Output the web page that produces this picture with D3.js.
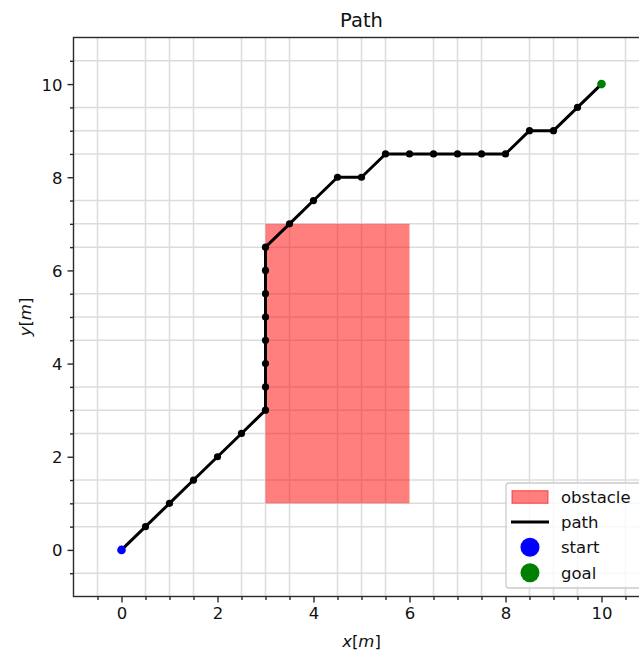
<!DOCTYPE html>
<html>
<head>
<meta charset="utf-8">
<script src="https://cdn.jsdelivr.net/npm/d3@7"></script>
<style>
  html, body { margin: 0; padding: 0; background: #fff; }
  svg { display: block; font-family: "DejaVu Sans", sans-serif; }
</style>
</head>
<body>
<svg id="chart" width="639" height="651"></svg>
<script>
// ---- data ----
const pathX = [0, 0.5, 1, 1.5, 2, 2.5, 3, 3, 3, 3, 3, 3, 3, 3, 3.5, 4, 4.5, 5, 5.5, 6, 6.5, 7, 7.5, 8, 8.5, 9, 9.5, 10];
const pathY = [0, 0.5, 1, 1.5, 2, 2.5, 3, 3.5, 4, 4.5, 5, 5.5, 6, 6.5, 7, 7.5, 8, 8, 8.5, 8.5, 8.5, 8.5, 8.5, 8.5, 9, 9, 9.5, 10];
const obstacleX = [3, 6];
const obstacleY = [1, 7];
const startPoint = [0, 0];
const goalPoint = [10, 10];
const xDomain = [-1, 11];
const yDomain = [-1, 11];
const majorTicks = [0, 2, 4, 6, 8, 10];
const minorTicks = [-1, -0.5, 0.5, 1, 1.5, 2.5, 3, 3.5, 4.5, 5, 5.5, 6.5, 7, 7.5, 8.5, 9, 9.5, 10.5, 11];
const legendLabels = ["obstacle", "path", "start", "goal"];

// ---- layout ----
const svg = d3.select("#chart");
const pL = 73.5, pR = 649.5, pT = 37.5, pB = 596.5;
const x = d3.scaleLinear().domain(xDomain).range([pL, pR]);
const y = d3.scaleLinear().domain(yDomain).range([pB, pT]);

svg.append("defs").append("clipPath").attr("id", "clip")
  .append("rect").attr("x", pL).attr("y", pT).attr("width", pR - pL).attr("height", pB - pT);

const plot = svg.append("g").attr("clip-path", "url(#clip)");

// grid on minor ticks only
const gridMinor = minorTicks.filter(v => v > xDomain[0] && v < xDomain[1]);
plot.selectAll(".gx").data(gridMinor).enter().append("line")
  .attr("x1", d => x(d)).attr("x2", d => x(d)).attr("y1", pT).attr("y2", pB)
  .attr("stroke", "#dcdcdc").attr("stroke-width", 1.5);
plot.selectAll(".gy").data(gridMinor).enter().append("line")
  .attr("y1", d => y(d)).attr("y2", d => y(d)).attr("x1", pL).attr("x2", pR)
  .attr("stroke", "#dcdcdc").attr("stroke-width", 1.5);

// obstacle
plot.append("rect")
  .attr("x", x(obstacleX[0])).attr("y", y(obstacleY[1]))
  .attr("width", x(obstacleX[1]) - x(obstacleX[0]))
  .attr("height", y(obstacleY[0]) - y(obstacleY[1]))
  .attr("fill", "#ff0000").attr("fill-opacity", 0.5);

// path
const pts = pathX.map((v, i) => [v, pathY[i]]);
plot.append("path").datum(pts)
  .attr("d", d3.line().x(d => x(d[0])).y(d => y(d[1])))
  .attr("fill", "none").attr("stroke", "#000").attr("stroke-width", 3)
  .attr("stroke-linejoin", "round");
plot.selectAll(".pt").data(pts).enter().append("circle")
  .attr("cx", d => x(d[0])).attr("cy", d => y(d[1])).attr("r", 3.6).attr("fill", "#000");

// start & goal
plot.append("circle").attr("cx", x(startPoint[0])).attr("cy", y(startPoint[1])).attr("r", 4.3).attr("fill", "#0000ff");
plot.append("circle").attr("cx", x(goalPoint[0])).attr("cy", y(goalPoint[1])).attr("r", 4.3).attr("fill", "#008000");

// axes
const axisColor = "#2a2a2a";
function styleAxis(g) {
  g.select(".domain").remove();
  g.selectAll("line").attr("stroke", axisColor).attr("stroke-width", 1.4);
  g.selectAll("text").attr("fill", "#111").style("font-size", "16.5px").style("font-family", "DejaVu Sans, sans-serif");
}
const xMajor = svg.append("g").attr("transform", `translate(0,${pB})`)
  .call(d3.axisBottom(x).tickValues(majorTicks).tickSize(6).tickPadding(5).tickFormat(d3.format("d")));
styleAxis(xMajor);
const xMinor = svg.append("g").attr("transform", `translate(0,${pB})`)
  .call(d3.axisBottom(x).tickValues(minorTicks.filter(v => v > xDomain[0] && v < xDomain[1])).tickSize(3.5).tickFormat(""));
styleAxis(xMinor);
const yMajor = svg.append("g").attr("transform", `translate(${pL},0)`)
  .call(d3.axisLeft(y).tickValues(majorTicks).tickSize(6).tickPadding(5).tickFormat(d3.format("d")));
styleAxis(yMajor);
yMajor.selectAll("text").attr("dy", "0.36em");
const yMinor = svg.append("g").attr("transform", `translate(${pL},0)`)
  .call(d3.axisLeft(y).tickValues(minorTicks.filter(v => v > yDomain[0] && v < yDomain[1])).tickSize(3.5).tickFormat(""));
styleAxis(yMinor);

// spines
svg.append("rect").attr("x", pL).attr("y", pT).attr("width", pR - pL).attr("height", pB - pT)
  .attr("fill", "none").attr("stroke", axisColor).attr("stroke-width", 1.4);

// title & labels
svg.append("text").attr("x", (pL + pR) / 2).attr("y", 26.5).attr("text-anchor", "middle")
  .style("font-size", "19.5px").attr("fill", "#111").text("Path");

const xl = svg.append("text").attr("x", (pL + pR) / 2).attr("y", 646.5).attr("text-anchor", "middle")
  .style("font-size", "16.5px").attr("fill", "#111");
xl.append("tspan").style("font-style", "italic").text("x");
xl.append("tspan").text("[");
xl.append("tspan").style("font-style", "italic").text("m");
xl.append("tspan").text("]");

const yl = svg.append("text").attr("transform", `translate(31,${(pT + pB) / 2}) rotate(-90)`)
  .attr("text-anchor", "middle").style("font-size", "16.5px").attr("fill", "#111");
yl.append("tspan").style("font-style", "italic").text("y");
yl.append("tspan").text("[");
yl.append("tspan").style("font-style", "italic").text("m");
yl.append("tspan").text("]");

// legend
const lg = svg.append("g");
lg.append("rect").attr("x", 506).attr("y", 483).attr("width", 140).attr("height", 105).attr("rx", 3)
  .attr("fill", "#fff").attr("fill-opacity", 0.8).attr("stroke", "#cccccc").attr("stroke-width", 1.3);
const rowY = [497, 522, 547.3, 572.7];
lg.append("rect").attr("x", 512).attr("y", rowY[0] - 6.3).attr("width", 36).attr("height", 12.6)
  .attr("fill", "#ff0000").attr("fill-opacity", 0.5).attr("stroke", "#ff0000").attr("stroke-opacity", 0.5).attr("stroke-width", 1.3);
lg.append("line").attr("x1", 511).attr("x2", 549).attr("y1", rowY[1]).attr("y2", rowY[1])
  .attr("stroke", "#000").attr("stroke-width", 3);
lg.append("circle").attr("cx", 530).attr("cy", rowY[2]).attr("r", 9.5).attr("fill", "#0000ff");
lg.append("circle").attr("cx", 530).attr("cy", rowY[3]).attr("r", 9.5).attr("fill", "#008000");
lg.selectAll(".lt").data(legendLabels).enter().append("text")
  .attr("x", 561).attr("y", (d, i) => rowY[i]).attr("dy", "0.36em")
  .style("font-size", "16.5px").attr("fill", "#111").text(d => d);
</script>
</body>
</html>
